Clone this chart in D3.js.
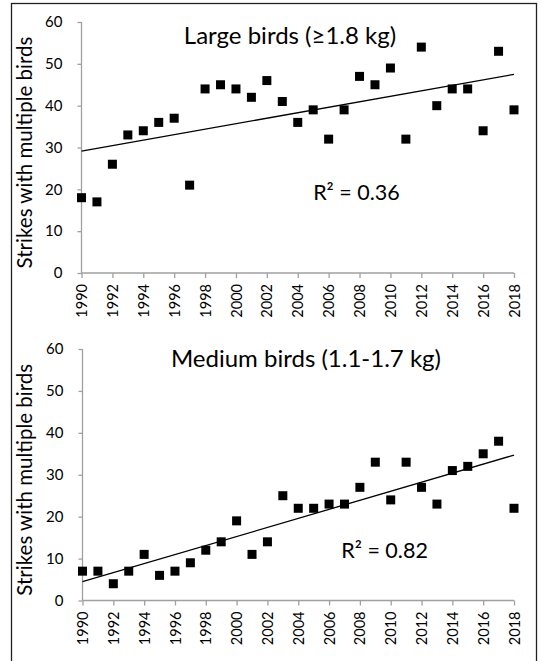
<!DOCTYPE html>
<html lang="en">
<head>
  <meta charset="UTF-8">
  <title>Strikes with multiple birds</title>
  <style>
    body { margin: 0; background: #fff; }
    text { font-family: Lato, "Open Sans", sans-serif; fill: #000; }
  </style>
</head>
<body>
  <script src="https://d3js.org/d3.v7.min.js"></script>
  <script>
    const years = d3.range(1990, 2019)
    const largeBirds = [18, 17, 26, 33, 34, 36, 37, 21, 44, 45, 44, 42, 46, 41, 36,
      39, 32, 39, 47, 45, 49, 32, 54, 40, 44, 44, 34, 53, 39]
    const mediumBirds = [7, 7, 4, 7, 11, 6, 7, 9, 12, 14, 19, 11, 14, 25, 22,
      22, 23, 23, 27, 33, 24, 33, 27, 23, 31, 32, 35, 38, 22]
    const yTicks = [0, 10, 20, 30, 40, 50, 60]
    const xTicks = d3.range(1990, 2019, 2)
    const titles = ['Large birds (\u22651.8 kg)', 'Medium birds (1.1-1.7 kg)']
    const r2Labels = ['R\u00b2 = 0.36', 'R\u00b2 = 0.82']
    const yTitle = 'Strikes with multiple birds'

    const W = 541, H = 661
    const svg = d3.select('body').append('svg')
      .attr('width', W)
      .attr('height', H)

    // outer frame
    svg.append('rect')
      .attr('x', 11.5).attr('y', 3.5)
      .attr('width', 525).attr('height', 670)
      .attr('fill', 'none')
      .attr('stroke', '#222')
      .attr('stroke-width', 1.3)

    const panels = [
      { values: largeBirds, x0: 81.5, x1: 514, top: 22, bottom: 273,
        title: titles[0], titleAt: [2003.5, 54.8], r2: r2Labels[0], r2At: [2007.8, 17.4] },
      { values: mediumBirds, x0: 82.5, x1: 514, top: 349, bottom: 600.5,
        title: titles[1], titleAt: [2004.5, 55.6], r2: r2Labels[1], r2At: [2009.6, 10.2] }
    ]

    panels.forEach(p => {
      const x = d3.scaleLinear().domain([1990, 2018]).range([p.x0, p.x1])
      const y = d3.scaleLinear().domain([0, 60]).range([p.bottom, p.top])
      const g = svg.append('g')

      const yAxis = g.append('g')
        .attr('transform', `translate(${p.x0},0)`)
        .call(d3.axisLeft(y).tickValues(yTicks).tickSize(4).tickPadding(15))
      const xAxis = g.append('g')
        .attr('transform', `translate(0,${p.bottom})`)
        .call(d3.axisBottom(x).tickValues(xTicks).tickSize(5).tickFormat(d3.format('d')))

      ;[yAxis, xAxis].forEach(a => {
        a.select('.domain').attr('stroke', '#a0a0a0').attr('stroke-width', 1.3)
          .attr('d', a === yAxis ? `M0,${p.bottom}V${p.top}` : `M${p.x0},0H${p.x1}`)
        a.selectAll('.tick line').attr('stroke', '#a0a0a0').attr('stroke-width', 1.3)
        a.selectAll('text').attr('fill', '#000')
      })
      yAxis.selectAll('text').style('font-size', '15px')
      xAxis.selectAll('text')
        .style('font-size', '14.5px')
        .attr('transform', 'rotate(-90)')
        .attr('text-anchor', 'end')
        .attr('x', -11)
        .attr('y', 0)
        .attr('dy', '0.35em')

      // trend line (least squares)
      const data = years.map((yr, i) => [yr, p.values[i]])
      const mx = d3.mean(data, d => d[0]), my = d3.mean(data, d => d[1])
      const slope = d3.sum(data, d => (d[0] - mx) * (d[1] - my)) /
        d3.sum(data, d => (d[0] - mx) ** 2)
      const fit = yr => my + slope * (yr - mx)
      g.append('path')
        .datum([1990, 2018])
        .attr('d', d3.line().x(d => x(d)).y(d => y(fit(d))))
        .attr('stroke', '#000')
        .attr('stroke-width', 1.3)
        .attr('fill', 'none')

      const s = 9
      g.selectAll('rect.pt')
        .data(data)
        .join('rect')
        .attr('class', 'pt')
        .attr('x', d => x(d[0]) - s / 2)
        .attr('y', d => y(d[1]) - s / 2)
        .attr('width', s)
        .attr('height', s)
        .attr('fill', '#000')

      g.append('text')
        .attr('x', x(p.titleAt[0])).attr('y', y(p.titleAt[1]))
        .attr('text-anchor', 'middle')
        .style('font-size', '24px')
        .text(p.title)

      g.append('text')
        .attr('x', x(p.r2At[0])).attr('y', y(p.r2At[1]))
        .attr('text-anchor', 'middle')
        .style('font-size', '21.5px')
        .text(p.r2)

      g.append('text')
        .attr('transform', `translate(32,${(p.top + p.bottom) / 2 + 5}) rotate(-90)`)
        .attr('text-anchor', 'middle')
        .style('font-size', '20.5px')
        .text(yTitle)
    })
  </script>
</body>
</html>
